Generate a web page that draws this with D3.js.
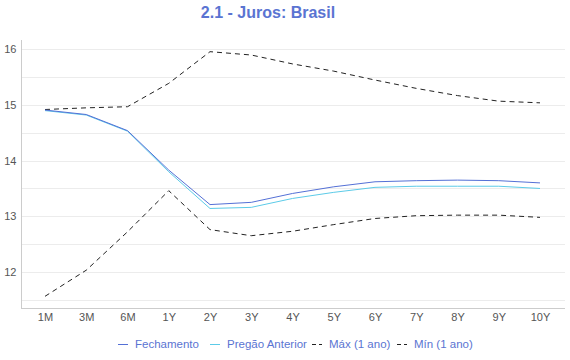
<!DOCTYPE html>
<html>
<head>
<meta charset="utf-8">
<script src="https://cdn.jsdelivr.net/npm/d3@7"></script>
<style>
  body { margin: 0; background: #fff; }
  text { font-family: "Liberation Sans", Arial, sans-serif; }
</style>
</head>
<body>
<main></main>
<script>
const vertices = ['1M', '3M', '6M', '1Y', '2Y', '3Y', '4Y', '5Y', '6Y', '7Y', '8Y', '9Y', '10Y'];
const fechamento = [14.91, 14.83, 14.54, 13.83, 13.21, 13.25, 13.41, 13.53, 13.62, 13.64, 13.65, 13.64, 13.60];
const pregaoAnterior = [14.90, 14.82, 14.53, 13.80, 13.14, 13.16, 13.32, 13.43, 13.52, 13.54, 13.54, 13.54, 13.50];
const maxAno = [14.92, 14.95, 14.97, 15.39, 15.96, 15.90, 15.74, 15.61, 15.45, 15.30, 15.17, 15.07, 15.04];
const minAno = [11.56, 12.03, 12.72, 13.46, 12.76, 12.65, 12.73, 12.85, 12.96, 13.01, 13.02, 13.02, 12.98];
const yTicks = [12, 13, 14, 15, 16];
const yGrid = [11.5, 12, 12.5, 13, 13.5, 14, 14.5, 15, 15.5, 16];

const series = [
    { name: 'Fechamento', values: fechamento, color: '#5470d6', dash: null },
    { name: 'Pregão Anterior', values: pregaoAnterior, color: '#5ccbe8', dash: null },
    { name: 'Máx (1 ano)', values: maxAno, color: '#222', dash: '5,4' },
    { name: 'Mín (1 ano)', values: minAno, color: '#222', dash: '5,4' }
];

const w = 570;
const h = 360;
const plotL = 21, plotR = 565, plotT = 40, plotB = 308;

const svg = d3.select('main').append('svg').attr('width', w).attr('height', h);

const x = d3.scalePoint().domain(vertices).range([45, 540]);
const y = d3.scaleLinear().domain([11.35, 16.17]).range([plotB, plotT]);

svg.append('text')
    .attr('x', 268)
    .attr('y', 18)
    .attr('text-anchor', 'middle')
    .attr('font-size', 16)
    .attr('font-weight', 'bold')
    .attr('fill', '#5a74d2')
    .text('2.1 - Juros: Brasil');

// grid
svg.append('g')
    .selectAll('line')
    .data(yGrid)
    .enter()
    .append('line')
    .attr('x1', plotL)
    .attr('x2', plotR)
    .attr('y1', d => Math.round(y(d)) + 0.5)
    .attr('y2', d => Math.round(y(d)) + 0.5)
    .attr('stroke', '#ececec');

// y axis
const yAxis = d3.axisLeft(y).tickValues(yTicks).tickFormat(d3.format('d')).tickSize(0).tickPadding(5);
const gy = svg.append('g').attr('transform', `translate(${plotL + 0.5},0)`).call(yAxis);
gy.select('.domain').remove();
gy.selectAll('text').attr('font-size', 11).attr('fill', '#555').style('font-family', '"Liberation Sans", Arial, sans-serif');

svg.append('line')
    .attr('x1', plotL + 0.5).attr('x2', plotL + 0.5)
    .attr('y1', plotT).attr('y2', plotB)
    .attr('stroke', '#ccc');

// x axis
const xAxis = d3.axisBottom(x).tickSize(0).tickPadding(5);
const gx = svg.append('g').attr('transform', `translate(0,${plotB + 0.5})`).call(xAxis);
gx.select('.domain').remove();
gx.selectAll('text').attr('font-size', 11).attr('fill', '#555').style('font-family', '"Liberation Sans", Arial, sans-serif');

svg.append('line')
    .attr('x1', plotL).attr('x2', plotR)
    .attr('y1', plotB + 0.5).attr('y2', plotB + 0.5)
    .attr('stroke', '#ccc');

// lines
const line = d3.line()
    .x((d, i) => x(vertices[i]))
    .y(d => y(d));

svg.append('g')
    .selectAll('path')
    .data(series.slice().reverse())
    .enter()
    .append('path')
    .attr('d', d => line(d.values))
    .attr('fill', 'none')
    .attr('stroke', d => d.color)
    .attr('stroke-width', 1)
    .attr('stroke-dasharray', d => d.dash);

// legend
const legendX = [118, 210, 312, 397];
const legend = svg.append('g').attr('transform', 'translate(0,344)');
const item = legend.selectAll('g')
    .data(series)
    .enter()
    .append('g')
    .attr('transform', (d, i) => `translate(${legendX[i]},0)`);
item.append('line')
    .attr('x1', 0).attr('x2', 10)
    .attr('y1', 0.5).attr('y2', 0.5)
    .attr('stroke', d => d.color)
    .attr('stroke-dasharray', d => d.dash ? '4,3' : null);
item.append('text')
    .attr('x', 17)
    .attr('y', 4)
    .attr('font-size', 11.5)
    .attr('fill', '#5a74d2')
    .text(d => d.name);
</script>
</body>
</html>
